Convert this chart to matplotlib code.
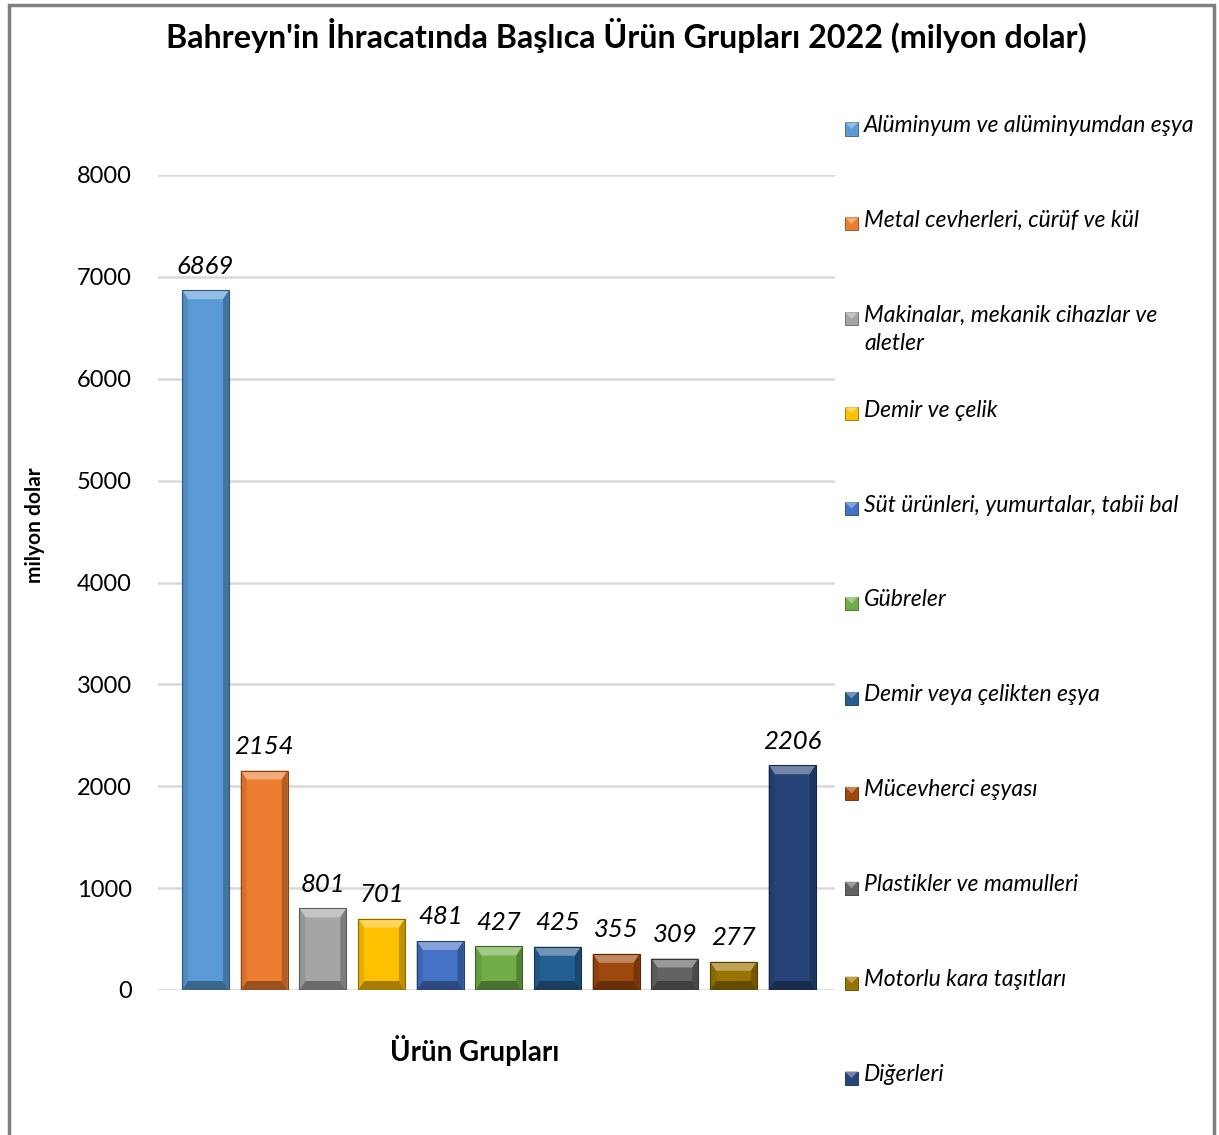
import matplotlib
matplotlib.use("Agg")
import matplotlib.pyplot as plt
from matplotlib.patches import Polygon, Rectangle
import matplotlib.colors as mcolors
import numpy as np

plt.rcParams['font.family'] = ['Lato', 'DejaVu Sans']

# data
categories = ["Alüminyum ve alüminyumdan eşya",
              "Metal cevherleri, cürüf ve kül",
              "Makinalar, mekanik cihazlar ve\naletler",
              "Demir ve çelik",
              "Süt ürünleri, yumurtalar, tabii bal",
              "Gübreler",
              "Demir veya çelikten eşya",
              "Mücevherci eşyası",
              "Plastikler ve mamulleri",
              "Motorlu kara taşıtları",
              "Diğerleri"]
values = [6869, 2154, 801, 701, 481, 427, 425, 355, 309, 277, 2206]
colors = ["#5B9BD5", "#ED7D31", "#A5A5A5", "#FFC000", "#4472C4", "#70AD47",
          "#255E91", "#9E480E", "#636363", "#997300", "#264478"]
yticks = [0, 1000, 2000, 3000, 4000, 5000, 6000, 7000, 8000]


def shade(c, f):
    r, g, b = mcolors.to_rgb(c)
    if f >= 0:
        return (r + (1 - r) * f, g + (1 - g) * f, b + (1 - b) * f)
    return (r * (1 + f), g * (1 + f), b * (1 + f))


W, H = 1219, 1135
fig = plt.figure(figsize=(W / 100, H / 100), dpi=100)

# outer frame
fig.patches.append(Rectangle((9 / W, -0.01), (1214 - 9) / W, 1 - 5 / H + 0.01,
                             transform=fig.transFigure, fill=False,
                             edgecolor="#808080", lw=2.5))

ax_l, ax_r, ax_b, ax_t = 158 / W, 835 / W, 1 - 990 / H, 1 - 175 / H
ax = fig.add_axes([ax_l, ax_b, ax_r - ax_l, ax_t - ax_b])
ax.set_xlim(-0.81, len(values) - 1 + 0.73)
ax.set_ylim(0, 8000)

x = np.arange(len(values))
bw = 0.80
bars = ax.bar(x, values, width=bw, color=colors, edgecolor="none", zorder=2)

# bevel effect built from each bar's geometry
ax_h_px = (ax_t - ax_b) * H
ax_w_px = (ax_r - ax_l) * W
xspan = ax.get_xlim()[1] - ax.get_xlim()[0]
by = 9 * 8000 / ax_h_px
bx = 6 * xspan / ax_w_px
for b, c in zip(bars, colors):
    x0, x1 = b.get_x(), b.get_x() + b.get_width()
    h = b.get_height()
    byy = min(by, h / 2)
    ax.add_patch(Polygon([(x0, h), (x1, h), (x1 - bx, h - byy), (x0 + bx, h - byy)],
                         closed=True, color=shade(c, 0.35), lw=0, zorder=3))
    ax.add_patch(Polygon([(x0, 0), (x1, 0), (x1 - bx, byy), (x0 + bx, byy)],
                         closed=True, color=shade(c, -0.35), lw=0, zorder=3))
    ax.add_patch(Polygon([(x0, 0), (x0, h), (x0 + bx, h - byy), (x0 + bx, byy)],
                         closed=True, color=shade(c, -0.1), lw=0, zorder=3))
    ax.add_patch(Polygon([(x1, 0), (x1, h), (x1 - bx, h - byy), (x1 - bx, byy)],
                         closed=True, color=shade(c, -0.25), lw=0, zorder=3))
    ax.add_patch(Rectangle((x0, 0), x1 - x0, h, fill=False,
                           edgecolor=shade(c, -0.45), lw=0.8, zorder=4))

for xi, v in zip(x, values):
    ax.annotate(str(v), (xi, v), xytext=(0, 9), textcoords="offset points",
                ha="center", va="bottom", fontsize=18.5, style="italic")

ax.set_yticks(yticks)
ax.set_yticklabels([str(t) for t in yticks])
ax.set_xticks([])
ax.tick_params(axis="y", length=0, pad=19, labelsize=17)
ax.grid(axis="y", color="#D9D9D9", lw=1.8, zorder=0)
ax.set_axisbelow(True)
for s in ax.spines.values():
    s.set_visible(False)

fig.text(626 / W, 1 - 35 / H, "Bahreyn'in İhracatında Başlıca Ürün Grupları 2022 (milyon dolar)",
         ha="center", va="center", fontsize=23.2, fontweight="bold")
fig.text(475 / W, 1 - 1050 / H, "Ürün Grupları", ha="center", va="center",
         fontsize=20, fontweight="bold")
fig.text(35 / W, 1 - 525 / H, "milyon dolar", ha="center", va="center",
         rotation=90, fontsize=15, fontweight="bold")

# legend drawn as marker + text rows
for i, (lab, c) in enumerate(zip(categories, colors)):
    yc = 129 + i * 94.9
    s = 13
    mx0, my0 = 845 / W, 1 - (yc + s / 2) / H
    fig.patches.append(Rectangle((mx0, my0), s / W, s / H, transform=fig.transFigure,
                                 facecolor=c, edgecolor=shade(c, -0.4), lw=0.6))
    fig.patches.append(Polygon([(mx0, my0 + s / H), (mx0 + s / W, my0 + s / H),
                                (mx0 + s / 2 / W, my0 + s / 2 / H)], closed=True,
                               transform=fig.transFigure, color=shade(c, 0.35), lw=0))
    fig.text(864 / W, 1 - (yc - 14) / H, lab, ha="left", va="top", fontsize=16.5,
             style="italic", linespacing=1.45)

fig.savefig("out.png", dpi=100)
